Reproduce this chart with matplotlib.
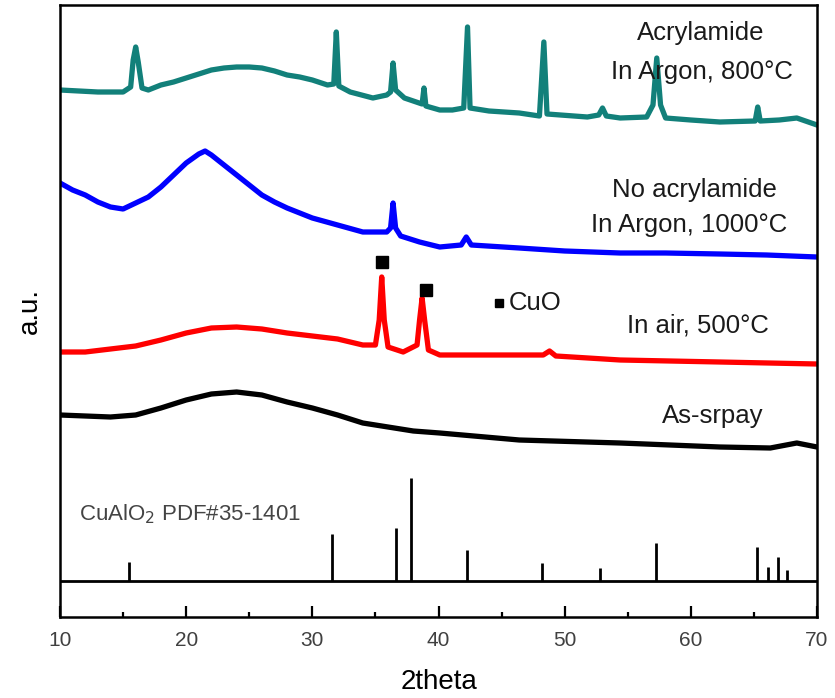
import matplotlib
matplotlib.use("Agg")
import matplotlib.pyplot as plt
from matplotlib.ticker import MultipleLocator

plt.rcParams['font.family'] = ['Liberation Sans', 'DejaVu Sans']

# --- XRD patterns (2theta in degrees, offset intensity in a.u.) ---
acryl_800_x = [10.0, 11.5, 13.0, 15.0, 15.6, 15.8, 16.0, 16.2, 16.5, 17.0, 18.0, 19.0,
               20.0, 21.0, 22.0, 23.0, 24.0, 25.0, 26.0, 27.0, 28.0, 29.0, 30.0, 31.2,
               31.7, 31.9, 32.1, 33.0, 34.8, 35.9, 36.2, 36.4, 36.6, 37.3, 38.7, 38.85,
               39.0, 40.1, 41.1, 42.0, 42.3, 42.5, 44.0, 46.4, 48.0, 48.35, 48.6, 51.8,
               52.7, 53.0, 53.3, 54.4, 56.5, 57.0, 57.3, 57.6, 58.0, 60.0, 62.3, 65.1,
               65.3, 65.5, 67.0, 68.4, 70.0]
acryl_800_y = [527, 526, 525, 525, 530, 557, 570, 555, 529, 527, 532, 535,
               539, 543, 547, 549, 550, 550, 549, 546, 542, 540, 537, 532,
               533, 585, 531, 525, 519, 522, 525, 554, 527, 519, 513, 529,
               511, 507, 507, 509, 590, 509, 506, 504, 501, 575, 503, 500,
               502, 509, 501, 499, 500, 512, 559, 512, 499, 497, 495, 496,
               510, 496, 497, 499, 492]

noacryl_1000_x = [10.0, 11.0, 12.0, 13.0, 14.0, 15.0, 16.0, 17.0, 18.0, 19.0, 20.0,
                  21.0, 21.5, 22.0, 23.0, 24.0, 25.0, 26.0, 27.0, 28.0, 30.0, 32.0,
                  34.0, 35.9, 36.2, 36.4, 36.6, 37.0, 38.5, 40.1, 41.8, 42.2, 42.6,
                  46.4, 50.0, 54.4, 58.0, 62.3, 66.0, 70.0]
noacryl_1000_y = [434, 427, 422, 415, 410, 408, 414, 420, 430, 442, 454,
                  463, 466, 462, 452, 442, 432, 422, 415, 409, 399, 392,
                  385, 385, 389, 414, 389, 381, 375, 370, 372, 380, 372,
                  369, 366, 364, 364, 363, 362, 360]

air_500_x = [10.0, 12.0, 14.0, 16.0, 18.0, 20.0, 22.0, 24.0, 26.0, 28.0, 30.0, 32.0,
             34.0, 35.0, 35.3, 35.5, 35.7, 36.0, 37.2, 38.3, 38.5, 38.7, 38.9, 39.2,
             40.1, 43.8, 48.3, 48.8, 49.3, 54.4, 62.3, 70.0]
air_500_y = [265, 265, 268, 271, 277, 284, 289, 290, 288, 284, 281, 278,
             272, 272, 297, 340, 297, 270, 265, 272, 297, 319, 297, 267,
             262, 262, 262, 266, 261, 257, 255, 253]

as_spray_x = [10.0, 12.0, 14.0, 16.0, 18.0, 20.0, 22.0, 24.0, 26.0, 28.0, 30.0, 32.0,
              34.0, 36.0, 38.0, 40.1, 46.4, 54.4, 62.3, 66.3, 68.4, 70.0]
as_spray_y = [202, 201, 200, 202, 209, 217, 223, 225, 222, 215, 209, 202,
              194, 190, 186, 184, 177, 174, 170, 169, 174, 170]

# CuO reflections marked on the air-annealed pattern
cuo_x = [35.5, 39.0]
cuo_y = [355, 327]

# Reference stick pattern: CuAlO2, PDF#35-1401
ref_pos = [15.5, 31.55, 36.62, 37.79, 42.22, 48.22, 52.82, 57.26, 65.28, 66.1, 66.92, 67.66]
ref_int = [19, 47, 53, 103, 31, 18, 13, 38, 34, 14, 24, 11]
ref_base = 36

fig = plt.figure(figsize=(8.35, 6.98), dpi=100)
ax = fig.add_axes([60 / 835, 1 - 617 / 698, 757 / 835, 612 / 698])

lw = 3.8
ax.plot(acryl_800_x, acryl_800_y, color='#12807a', lw=lw)
ax.plot(noacryl_1000_x, noacryl_1000_y, color='#0000ff', lw=lw)
ax.plot(air_500_x, air_500_y, color='#ff0000', lw=lw)
ax.plot(as_spray_x, as_spray_y, color='#000000', lw=lw)

ax.plot(cuo_x, cuo_y, ls='none', marker='s', ms=8.5, color='black')

ax.axhline(ref_base, color='black', lw=2)
ax.vlines(ref_pos, ref_base, [ref_base + h for h in ref_int], color='black', lw=2)

txt = dict(fontsize=18.5, color='#1a1a1a', ha='center', va='center')
ax.text(60.8, 584, 'Acrylamide', **txt)
ax.text(60.9, 545, 'In Argon, 800°C', **txt)
ax.text(60.3, 427, 'No acrylamide', **txt)
ax.text(59.9, 392, 'In Argon, 1000°C', **txt)
ax.text(60.6, 292, 'In air, 500°C', **txt)
ax.text(61.7, 201, 'As-srpay', **txt)
ax.plot([44.8], [314], ls='none', marker='s', ms=6, color='black')
ax.text(45.6, 314, 'CuO', fontsize=18.5, color='#1a1a1a', ha='left', va='center')
ax.text(11.5, 103, 'CuAlO$_2$ PDF#35-1401', fontsize=16, color='#444444',
        ha='left', va='center')

ax.set_xlim(10, 70)
ax.set_ylim(0, 612)
ax.xaxis.set_major_locator(MultipleLocator(10))
ax.xaxis.set_minor_locator(MultipleLocator(5))
ax.tick_params(axis='x', which='major', direction='in', length=8, width=1.6,
               labelsize=15, labelcolor='#404040', pad=10)
ax.tick_params(axis='x', which='minor', direction='in', length=3.5, width=1.6)
ax.set_yticks([])
for s in ax.spines.values():
    s.set_linewidth(1.8)
    s.set_color('black')

ax.set_xlabel('2theta', fontsize=20, labelpad=14)
ax.set_ylabel('a.u.', fontsize=20, labelpad=12)

fig.savefig('out.png', dpi=100)
